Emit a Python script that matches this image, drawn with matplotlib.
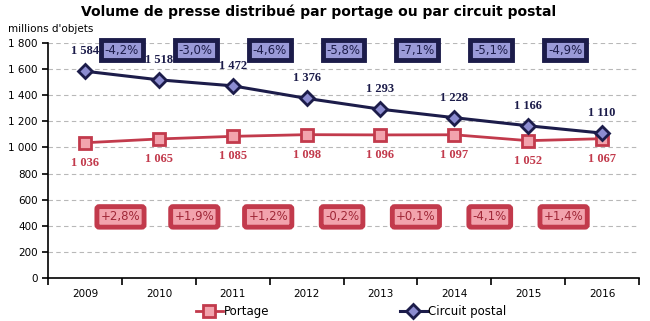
import numpy as np
import matplotlib.pyplot as plt

# Volume de presse distribué (millions d'objets)
years = ['2009', '2010', '2011', '2012', '2013', '2014', '2015', '2016']
portage = [1036, 1065, 1085, 1098, 1096, 1097, 1052, 1067]
circuit = [1584, 1518, 1472, 1376, 1293, 1228, 1166, 1110]
evol_circuit = ['-4,2%', '-3,0%', '-4,6%', '-5,8%', '-7,1%', '-5,1%', '-4,9%']
evol_portage = ['+2,8%', '+1,9%', '+1,2%', '-0,2%', '+0,1%', '-4,1%', '+1,4%']

navy = '#1c1c4a'
lav = '#9a9ad8'
red = '#c23a4c'
pink = '#f2a3ad'

fig = plt.figure(figsize=(6.5, 3.21), dpi=100)
ax = fig.add_axes([0.074, 0.134, 0.909, 0.732])

x = np.arange(len(years))
ax.plot(x, portage, '-', color=red, lw=2, marker='s', ms=9,
        mfc=pink, mec=red, mew=2, label='Portage', zorder=3)
ax.plot(x, circuit, '-', color=navy, lw=2.2, marker='D', ms=7,
        mfc='#8c8cd0', mec=navy, mew=2, label='Circuit postal', zorder=4)

def fmt(v):
    return '{:,}'.format(v).replace(',', ' ')

for i in x:
    ax.annotate(fmt(circuit[i]), (i, circuit[i]), xytext=(0, 10),
                textcoords='offset points', ha='center', va='bottom',
                fontsize=9, fontweight='bold', family='Liberation Serif',
                color=navy)
    ax.annotate(fmt(portage[i]), (i, portage[i]), xytext=(0, -10),
                textcoords='offset points', ha='center', va='top',
                fontsize=9, fontweight='bold', family='Liberation Serif',
                color=red)

for i in range(len(evol_circuit)):
    ax.text(i + 0.5, 1745, evol_circuit[i], ha='center', va='center',
            fontsize=8.5, color=navy,
            bbox=dict(boxstyle='square,pad=0.32', fc=lav, ec=navy, lw=3.5))
    ax.text(i + 0.48, 468, evol_portage[i], ha='center', va='center',
            fontsize=8.5, color='#a02838',
            bbox=dict(boxstyle='round,pad=0.32,rounding_size=0.2',
                      fc=pink, ec=red, lw=3.5))

ax.set_ylim(0, 1800)
ax.set_yticks(np.arange(0, 1801, 200))
ax.set_yticklabels([fmt(v) for v in range(0, 1801, 200)], fontsize=7.5)
ax.yaxis.grid(True, ls=(0, (4, 3)), color='#b8b8b8', lw=0.8)
ax.set_axisbelow(True)

ax.set_xlim(-0.5, len(years) - 0.5)
ax.set_xticks(np.arange(-0.5, len(years)))
ax.set_xticklabels([])
ax.set_xticks(x, minor=True)
ax.set_xticklabels(years, minor=True, fontsize=7.5)
ax.tick_params(axis='x', which='major', length=5, width=1.2)
ax.tick_params(axis='x', which='minor', length=0, pad=8)
ax.tick_params(axis='y', length=4, width=1.2)

for s in ['top', 'right']:
    ax.spines[s].set_visible(False)
for s in ['left', 'bottom']:
    ax.spines[s].set_linewidth(1.2)

fig.text(0.49, 0.963, 'Volume de presse distribué par portage ou par circuit postal',
         ha='center', va='center', fontsize=10, fontweight='bold')
fig.text(0.012, 0.91, "millions d'objets", ha='left', va='center', fontsize=7.5)

fig.legend(loc='lower center', bbox_to_anchor=(0.54, -0.025), ncol=2,
           frameon=False, fontsize=8.5, handlelength=2.3, columnspacing=11,
           handletextpad=0.1)

fig.savefig('out.png', dpi=100)
